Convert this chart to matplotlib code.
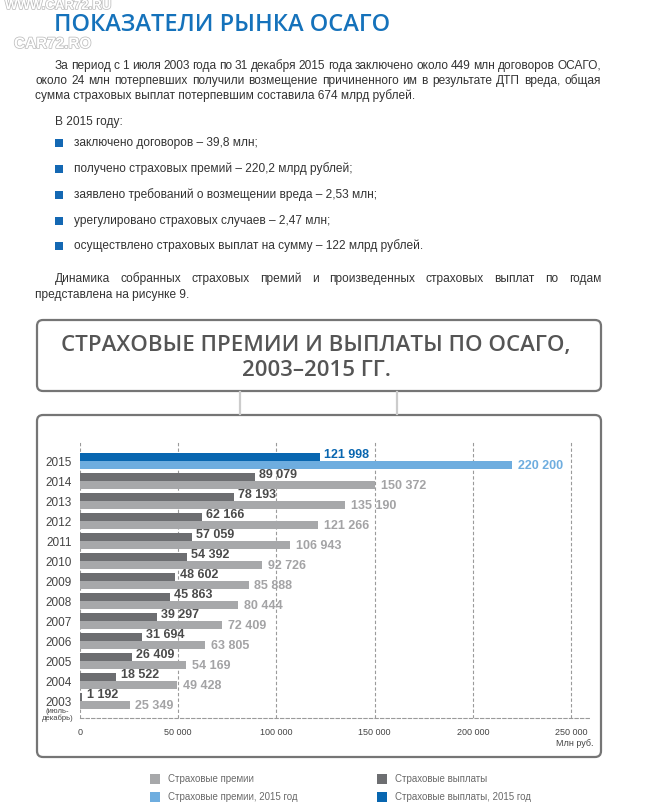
import matplotlib
matplotlib.use('Agg')
import matplotlib.pyplot as plt
import matplotlib.patheffects as pe
from matplotlib import font_manager
from matplotlib.patches import FancyBboxPatch, Rectangle

# --- данные ---
years = ['2003', '2004', '2005', '2006', '2007', '2008', '2009',
         '2010', '2011', '2012', '2013', '2014', '2015']
premiums = [25349, 49428, 54169, 63805, 72409, 80444, 85888,
            92726, 106943, 121266, 135190, 150372, 220200]
payments = [1192, 18522, 26409, 31694, 39297, 45863, 48602,
            54392, 57059, 62166, 78193, 89079, 121998]
x_ticks = [0, 50000, 100000, 150000, 200000, 250000]

page_title = 'ПОКАЗАТЕЛИ РЫНКА ОСАГО'
intro = ['За период с 1 июля 2003 года по 31 декабря 2015 года заключено около 449 млн договоров ОСАГО,',
         'около 24 млн потерпевших получили возмещение причиненного им в результате ДТП вреда, общая',
         'сумма страховых выплат потерпевшим составила 674 млрд рублей.']
bullets = ['заключено договоров – 39,8 млн;',
           'получено страховых премий – 220,2 млрд рублей;',
           'заявлено требований о возмещении вреда – 2,53 млн;',
           'урегулировано страховых случаев – 2,47 млн;',
           'осуществлено страховых выплат на сумму – 122 млрд рублей.']
outro = ['Динамика собранных страховых премий и произведенных страховых выплат по годам',
         'представлена на рисунке 9.']
chart_title = ['СТРАХОВЫЕ ПРЕМИИ И ВЫПЛАТЫ ПО ОСАГО,', '2003–2015 ГГ.']
legend_items = [('Страховые премии', '#a7a8aa'), ('Страховые выплаты', '#6d6e71'),
                ('Страховые премии, 2015 год', '#6eaddf'), ('Страховые выплаты, 2015 год', '#0866b0')]

names = {f.name for f in font_manager.fontManager.ttflist}
body_font = 'Liberation Sans Narrow' if 'Liberation Sans Narrow' in names else 'Liberation Sans'
head_font = 'Open Sans'
text_col = '#333333'

fig = plt.figure(figsize=(6.62, 8.08), dpi=100)
fig.patch.set_facecolor('white')

# фон страницы в пиксельных координатах
bg = fig.add_axes([0, 0, 1, 1])
bg.set_xlim(0, 662)
bg.set_ylim(808, 0)
bg.axis('off')
renderer = fig.canvas.get_renderer()


def justify(line, x0, x1, y, **kw):
    words = line.split()
    items = [bg.text(0, y, w, va='center', **kw) for w in words]
    widths = [t.get_window_extent(renderer).width for t in items]
    gap = (x1 - x0 - sum(widths)) / (len(words) - 1)
    x = x0
    for t, w in zip(items, widths):
        t.set_x(x)
        x += w + gap


# водяной знак
halo = [pe.withStroke(linewidth=1.1, foreground='#bdbdbd')]
bg.text(5, 6, 'WWW.CAR72.RU', fontsize=9.5, fontweight='bold', color='white',
        va='center', family='Liberation Sans', path_effects=halo)
bg.text(14, 44, 'CAR72.RO', fontsize=11, fontweight='bold', color='white',
        va='center', family='Liberation Sans', path_effects=halo)

bg.text(54, 25, page_title, fontsize=17, fontweight='semibold', color='#1572bb',
        va='center', family=head_font)

body = dict(fontsize=8.6, family=body_font, color=text_col)
justify(intro[0], 55, 601, 66, **body)
justify(intro[1], 35, 601, 81, **body)
bg.text(35, 96, intro[2], va='center', **body)

bg.text(55, 122, 'В 2015 году:', va='center', **body)
for b, y in zip(bullets, [143, 169, 195, 221, 246]):
    bg.add_patch(Rectangle((55, y - 4), 7.5, 7.5, color='#1468b3', lw=0))
    bg.text(74, y, b, va='center', **body)

justify(outro[0], 55, 601, 279, **body)
bg.text(35, 295, outro[1], va='center', **body)

# рамки
box_kw = dict(boxstyle='round,pad=0,rounding_size=6', fc='white', ec='#757575', lw=1.6)
bg.add_patch(FancyBboxPatch((37, 320), 564, 71, **box_kw))
bg.add_patch(FancyBboxPatch((37, 415), 564, 342, **box_kw))
for xc in [240, 397]:
    bg.plot([xc, xc], [392, 414], color='#cccccc', lw=1.6)
bg.text(316, 346, chart_title[0], fontsize=16, fontweight='semibold', color='#555555',
        ha='center', va='center', family=head_font)
bg.text(316, 370, chart_title[1], fontsize=16, fontweight='semibold', color='#555555',
        ha='center', va='center', family=head_font)

# легенда
for (lab, col), (x, y) in zip(legend_items, [(150, 779), (377, 779), (150, 797), (377, 797)]):
    bg.add_patch(Rectangle((x, y - 5), 10, 10, color=col, lw=0))
    bg.text(x + 18, y, lab, fontsize=7, color='#6a6a6a', va='center', family='Liberation Sans')

# --- диаграмма ---
ax = fig.add_axes([80 / 662, 1 - 718 / 808, 510.6 / 662, 276 / 808])
ax.set_facecolor('none')
idx = list(range(len(years)))
pay_cols = ['#6d6e71'] * 12 + ['#0866b0']
prem_cols = ['#a7a8aa'] * 12 + ['#6eaddf']
pay_lab = ['#4a4a4a'] * 12 + ['#0866b0']
prem_lab = ['#a3a3a5'] * 12 + ['#6eaddf']

ax.barh([i + 0.2 for i in idx], payments, height=0.4, color=pay_cols, zorder=3)
ax.barh([i - 0.2 for i in idx], premiums, height=0.4, color=prem_cols, zorder=3)

fmt = lambda v: f'{v:,}'.replace(',', ' ')
for i in idx:
    ax.annotate(fmt(payments[i]), (payments[i], i + 0.28), xytext=(3, 0), textcoords='offset points',
                va='center', fontsize=9, fontweight='bold', color=pay_lab[i], family='Liberation Sans')
    ax.annotate(fmt(premiums[i]), (premiums[i], i - 0.24), xytext=(4, 0), textcoords='offset points',
                va='center', fontsize=9, fontweight='bold', color=prem_lab[i], family='Liberation Sans')

ax.set_xlim(0, 260000)
ax.set_ylim(-0.85, 12.95)
ax.set_xticks(x_ticks)
ax.set_xticklabels([fmt(v) for v in x_ticks], fontsize=6.5, color='#444444', family='Liberation Sans')
ax.set_yticks(idx)
ax.set_yticklabels(years, fontsize=8.5, color='#444444', family='Liberation Sans')
ax.tick_params(length=0)
ax.tick_params(axis='x', pad=7)
ax.tick_params(axis='y', pad=6)
ax.xaxis.grid(True, linestyle=(0, (3, 2)), color='#9a9a9a', lw=0.8, zorder=0)
for s in ['top', 'right', 'left']:
    ax.spines[s].set_visible(False)
ax.spines['bottom'].set_linestyle((0, (3, 2)))
ax.spines['bottom'].set_color('#9a9a9a')
ax.spines['bottom'].set_linewidth(0.8)

bg.text(57.5, 711.5, '(июль-', fontsize=5.5, color='#444444', ha='center', va='center', family='Liberation Sans')
bg.text(57.5, 718, 'декабрь)', fontsize=5.5, color='#444444', ha='center', va='center', family='Liberation Sans')
bg.text(593, 744, 'Млн руб.', fontsize=6.5, color='#444444', ha='right', va='center', family='Liberation Sans')

fig.savefig('out.png', dpi=100)
